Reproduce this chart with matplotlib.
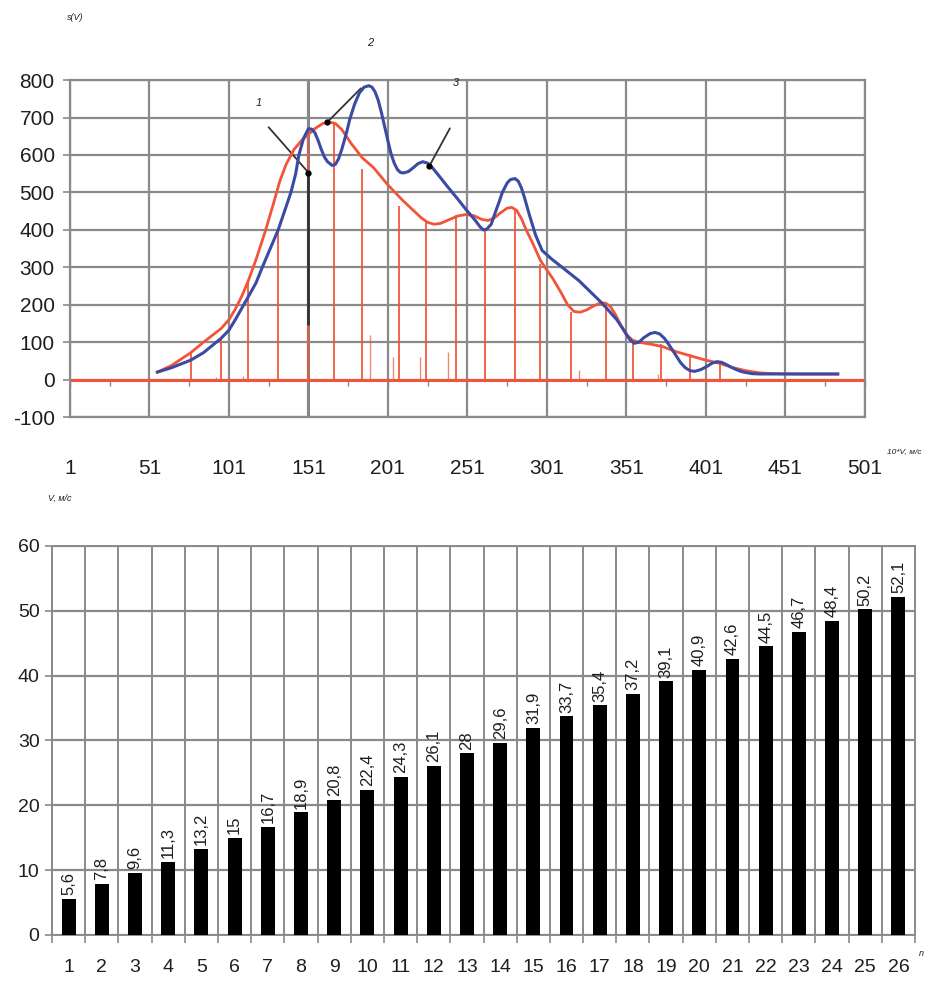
import numpy as np
import matplotlib.pyplot as plt

plt.rcParams['font.family'] = ['Liberation Sans', 'DejaVu Sans']
plt.rcParams['axes.unicode_minus'] = False

# --- top chart: s(V) curves (x in 10*V, m/s) ---
blue_x = [56, 65, 77, 85, 96, 101, 105, 109, 113, 118, 122, 127, 132, 136, 140, 143,
          145, 148, 151, 153, 155, 157, 159, 161, 163, 166, 168, 170, 172, 175, 177,
          180, 183, 186, 189, 191, 193, 195, 197, 199, 201, 203, 205, 207, 209, 211,
          214, 217, 220, 223, 226, 229, 233, 239, 245, 250, 256, 259, 261, 263, 266,
          268, 271, 273, 276, 278, 281, 283, 285, 287, 290, 294, 298, 304, 310, 321,
          336, 345, 350, 353, 356, 359, 362, 366, 369, 372, 375, 378, 382, 385, 388,
          391, 394, 398, 402, 405, 408, 411, 414, 417, 420, 423, 426, 430, 435, 450,
          470, 484]
blue_y = [20, 32, 52, 72, 110, 132, 160, 190, 220, 258, 300, 350, 400, 450, 500, 550,
          600, 645, 670, 669, 660, 640, 616, 595, 582, 572, 575, 590, 615, 660, 695,
          735, 765, 781, 785, 781, 768, 745, 712, 675, 638, 603, 578, 561, 553, 552,
          556, 566, 577, 582, 578, 566, 545, 513, 482, 455, 425, 408, 400, 401, 415,
          440, 475, 500, 525, 534, 537, 530, 512, 485, 440, 385, 345, 322, 302, 265,
          203, 160, 128, 108, 97, 100, 112, 123, 126, 122, 110, 92, 66, 46, 32,
          24, 22, 27, 36, 44, 48, 46, 40, 33, 27, 22, 19, 16, 15, 15,
          15, 15]

red_x = [56, 65, 77, 85, 96, 101, 105, 109, 113, 118, 124, 129, 133, 137, 142, 147,
         151, 155, 160, 164, 168, 172, 178, 185, 192, 201, 210, 217, 222, 226, 230,
         234, 240, 245, 250, 255, 260, 264, 268, 272, 276, 279, 282, 285, 288, 292,
         297, 305, 310, 314, 318, 322, 326, 331, 335, 338, 341, 344, 347, 351, 355,
         360, 366, 374, 382, 391, 400, 410, 418, 426, 435, 443, 460, 484]
red_y = [20, 38, 72, 100, 136, 160, 188, 222, 262, 320, 398, 470, 530, 575, 615, 640,
         655, 670, 684, 688, 684, 668, 630, 592, 566, 520, 480, 452, 432, 420, 415,
         417, 428, 437, 441, 438, 428, 425, 432, 446, 458, 460, 452, 430, 400, 365,
         318, 268, 232, 200, 182, 180, 186, 198, 205, 204, 195, 175, 150, 120, 105,
         99, 95, 88, 75, 64, 53, 43, 32, 24, 18, 16, 15, 15]

# red spectral lines
spike_x = [77, 96, 113, 132, 151, 167, 185, 208, 225, 244, 262, 281, 297, 316, 338,
           355, 373, 391, 410]
spike_h = [72, 112, 257, 405, 645, 688, 562, 465, 420, 440, 405, 455, 310, 180, 203,
           100, 95, 68, 45]
small_x = [93, 110, 190, 204, 221, 239, 321, 371]
small_h = [8, 10, 120, 60, 60, 75, 25, 15]

x_ticks_top = np.arange(1, 502, 50)

# --- bottom chart: V by n ---
n = np.arange(1, 27)
v = [5.6, 7.8, 9.6, 11.3, 13.2, 15, 16.7, 18.9, 20.8, 22.4, 24.3, 26.1, 28, 29.6,
     31.9, 33.7, 35.4, 37.2, 39.1, 40.9, 42.6, 44.5, 46.7, 48.4, 50.2, 52.1]

red = '#f2543a'
blue = '#3b4aa3'
grid_c = '#8a8a8a'
txt_c = '#1e1e1e'

fig = plt.figure(figsize=(9.34, 9.85), dpi=100)

# ---------------- top ----------------
ax1 = fig.add_axes([0.0749, 0.5766, 0.851, 0.3421])
ax1.set_xlim(1, 501)
ax1.set_ylim(-100, 800)
ax1.set_xticks(x_ticks_top)
ax1.set_yticks(np.arange(-100, 801, 100))
ax1.grid(True, color=grid_c, lw=1.6)
ax1.set_axisbelow(True)
for s in ax1.spines.values():
    s.set_color(grid_c)
    s.set_linewidth(1.6)
ax1.tick_params(axis='x', length=0, pad=30, labelsize=15, labelcolor=txt_c)
ax1.tick_params(axis='y', length=5, width=1.2, color=grid_c, pad=6, labelsize=15,
                labelcolor=txt_c)
# darker grid line at 151
ax1.axvline(151, color='#555555', lw=1.8, zorder=0.5)

# small ticks on the zero line
sec = ax1.secondary_xaxis(100 / 900)
sec.set_xticks(np.arange(1, 502, 25))
sec.tick_params(direction='out', length=4, width=1, color=grid_c, labelbottom=False,
                labeltop=False)
for s in sec.spines.values():
    s.set_visible(False)

ax1.axhline(0, xmin=0.0, xmax=0.997, color=red, lw=2.2, zorder=2)
ax1.vlines(spike_x, 0, spike_h, color=red, lw=1.4, alpha=0.9, zorder=2)
ax1.vlines(small_x, 0, small_h, color=red, lw=1.0, alpha=0.7, zorder=2)
ax1.vlines([151], 145, 553, color='#333333', lw=2, zorder=3)

ax1.plot(red_x, red_y, color=red, lw=2, zorder=4, solid_joinstyle='round')
ax1.plot(blue_x, blue_y, color=blue, lw=2.2, zorder=5, solid_joinstyle='round')

# pointers
ax1.annotate('', xy=(151, 553), xytext=(126, 674),
             arrowprops=dict(arrowstyle='-', color='#333333', lw=1.3, shrinkA=0, shrinkB=0))
ax1.annotate('', xy=(163, 688), xytext=(184, 778),
             arrowprops=dict(arrowstyle='-', color='#333333', lw=1.3, shrinkA=0, shrinkB=0))
ax1.annotate('', xy=(227, 570), xytext=(240, 671),
             arrowprops=dict(arrowstyle='-', color='#333333', lw=1.3, shrinkA=0, shrinkB=0))
ax1.plot([151, 163, 227], [553, 688, 570], 'o', color='black', ms=3.5, zorder=6)
ax1.text(120, 738, '1', fontsize=8, style='italic', ha='center', va='center', color=txt_c)
ax1.text(190, 900, '2', fontsize=8, style='italic', ha='center', va='center', color=txt_c,
         clip_on=False)
ax1.text(244, 791, '3', fontsize=8, style='italic', ha='center', va='center', color=txt_c)

fig.text(75 / 934, 1 - 18 / 985, 's(V)', fontsize=6.5, style='italic', ha='center',
         va='center', color=txt_c)
fig.text(887 / 934, 1 - 452 / 985, '10*V, м/с', fontsize=6, style='italic', ha='left',
         va='center', color=txt_c)

# ---------------- bottom ----------------
ax2 = fig.add_axes([0.0557, 0.0508, 0.924, 0.395])
ax2.set_xlim(0.5, 26.5)
ax2.set_ylim(0, 60)
bars = ax2.bar(n, v, width=0.42, color='black', zorder=3)
for b, val in zip(bars, v):
    ax2.text(b.get_x() + b.get_width() / 2, val + 0.6, f'{val:g}'.replace('.', ','),
             rotation=90, ha='center', va='bottom', fontsize=12, color=txt_c, zorder=4)

ax2.set_xticks(n)
ax2.set_xticks(np.arange(0.5, 27, 1), minor=True)
ax2.set_yticks(np.arange(0, 61, 10))
ax2.grid(True, which='minor', axis='x', color=grid_c, lw=1.4)
ax2.grid(True, which='major', axis='y', color=grid_c, lw=1.6)
ax2.set_axisbelow(True)
for s in ax2.spines.values():
    s.set_color(grid_c)
    s.set_linewidth(1.4)
ax2.tick_params(axis='x', which='major', length=0, pad=17, labelsize=14, labelcolor=txt_c)
ax2.tick_params(axis='x', which='minor', length=6, width=1.2, color=grid_c)
ax2.tick_params(axis='y', length=5, width=1.2, color=grid_c, pad=4, labelsize=14,
                labelcolor=txt_c)

fig.text(60 / 934, 1 - 498 / 985, 'V, м/с', fontsize=6.5, style='italic', ha='center',
         va='center', color=txt_c)
fig.text(921 / 934, 1 - 953 / 985, 'n', fontsize=6.5, style='italic', ha='center',
         va='center', color=txt_c)

fig.savefig('out.png', dpi=100)
